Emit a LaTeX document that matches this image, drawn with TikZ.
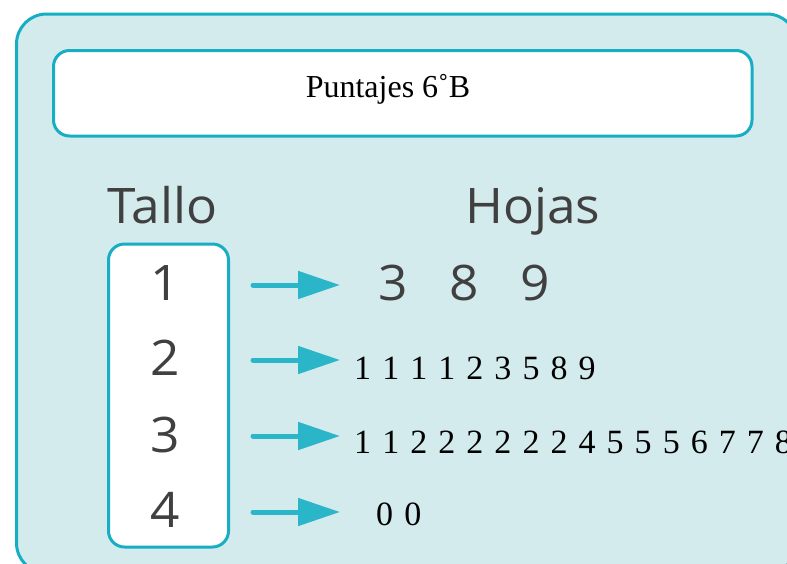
\documentclass[tikz,border=0pt]{standalone}
\usepackage{fontspec}
\setmainfont{Liberation Serif}
\newfontfamily\opensans[FakeStretch=1.05]{Open Sans}
\newfontfamily\leaffont[WordSpace=1.3]{Liberation Serif}
\usetikzlibrary{arrows.meta}
\definecolor{bgblue}{HTML}{D4EBEE}
\definecolor{lineteal}{HTML}{17AEC3}
\definecolor{arrowc}{HTML}{2AB5C9}
\definecolor{txtgray}{HTML}{404040}
\begin{document}
\begin{tikzpicture}[x=1pt,y=-1pt,
  frame/.style={draw=lineteal,line width=3pt,rounded corners=#1,inner sep=0pt,outer sep=0pt},
  sanslbl/.style={inner sep=0pt,text=txtgray,font=\opensans\fontsize{49}{58}\selectfont},
  leaves/.style={inner sep=0pt,anchor=base west,text=black,font=\leaffont\fontsize{34}{40}\selectfont},
  arr/.style={draw=arrowc,line width=5pt,line cap=round,-{Triangle[length=42pt,width=27pt]}}]
\useasboundingbox (0,0) rectangle (787,563);
\clip (0,0) rectangle (787,563);
% outer panel
\node[frame=30pt,fill=bgblue,minimum width=780.5pt,minimum height=559pt] (panel) at (406.75,293.5) {};
% title box
\node[frame=16pt,fill=white,minimum width=698.5pt,minimum height=85.5pt] (titlebox) at (402.75,93.25) {};
\node[inner sep=0pt,anchor=base,font=\fontsize{32}{38}\selectfont] (title) at (388,97) {Puntajes 6˚B};
% headers
\node[sanslbl,anchor=base west] (tallo) at (107,223) {Tallo};
\node[sanslbl,anchor=base west] (hojas) at (465,223) {Hojas};
% stem box
\node[frame=16pt,fill=white,minimum width=120pt,minimum height=303pt] (stembox) at (168.5,395.5) {};
\node[sanslbl,anchor=base] (t1) at (165,300) {1};
\node[sanslbl,anchor=base] (t2) at (165,375) {2};
\node[sanslbl,anchor=base] (t3) at (165,452) {3};
\node[sanslbl,anchor=base] (t4) at (165,527) {4};
% leaves
\node[sanslbl,anchor=base west] (h1) at (378,300) {3\hspace{0.85em}8\hspace{0.85em}9};
\node[leaves] (h2) at (354,379) {1 1 1 1 2 3 5 8 9};
\node[leaves] (h3) at (354,453) {1 1 2 2 2 2 2 2 4 5 5 5 6 7 7 8};
\node[leaves] (h4) at (376,525) {0 0};
% arrows
\coordinate (s1) at (253,285); \coordinate (e1) at (340,285);
\coordinate (s2) at (253,360); \coordinate (e2) at (340,360);
\coordinate (s3) at (253,436); \coordinate (e3) at (340,436);
\coordinate (s4) at (253,512); \coordinate (e4) at (340,512);
\draw[arr] (s1) -- (e1);
\draw[arr] (s2) -- (e2);
\draw[arr] (s3) -- (e3);
\draw[arr] (s4) -- (e4);
\end{tikzpicture}
\end{document}
